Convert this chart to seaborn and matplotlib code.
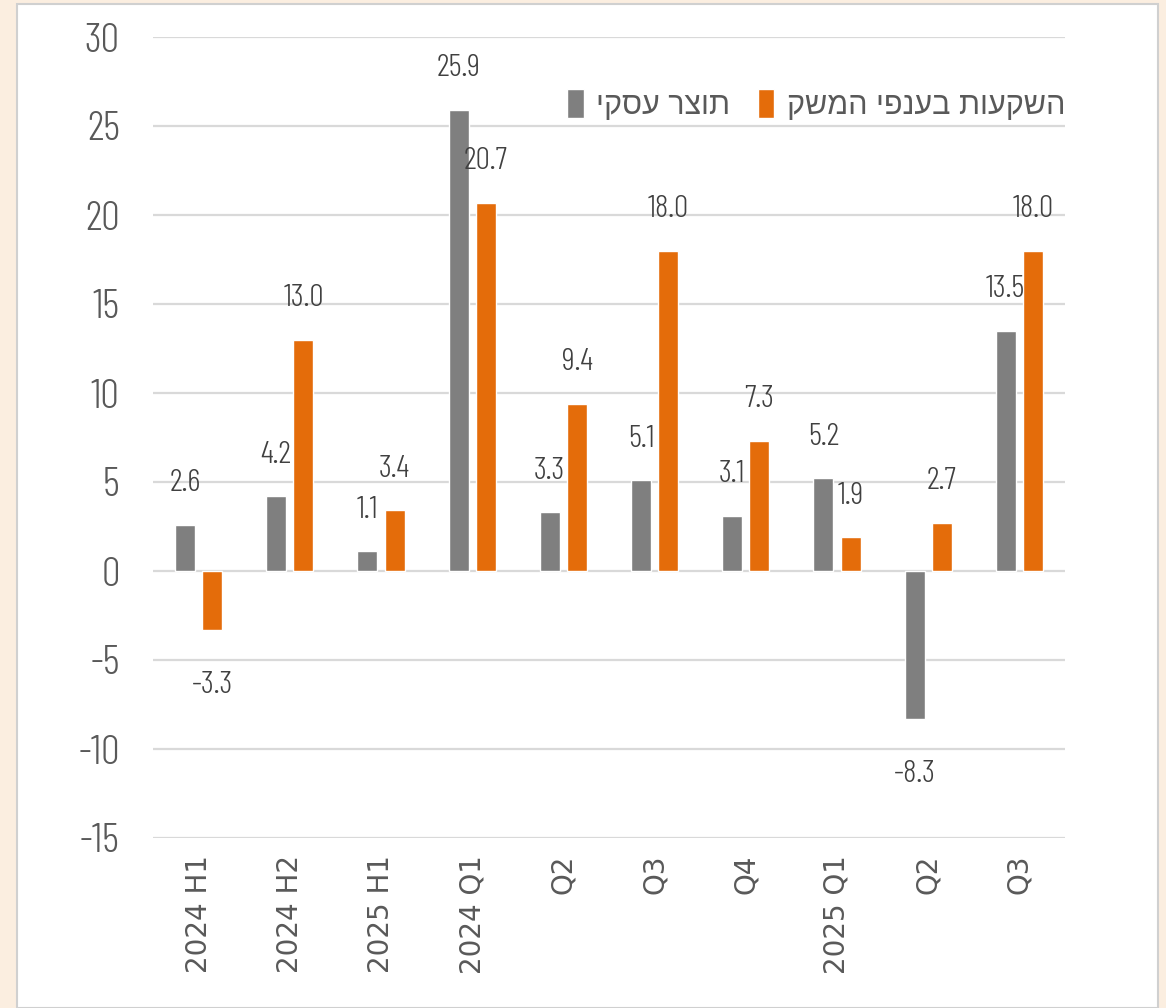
import matplotlib
matplotlib.use("Agg")
import matplotlib.pyplot as plt
from matplotlib.patches import Rectangle
from matplotlib import font_manager as fm
import seaborn as sns
import pandas as pd

# ---- data ----
categories = ["2024 H1", "2024 H2", "2025 H1", "2024 Q1", "Q2", "Q3", "Q4", "2025 Q1", "Q2", "Q3"]
business_gdp = [2.6, 4.2, 1.1, 25.9, 3.3, 5.1, 3.1, 5.2, -8.3, 13.5]
investment = [-3.3, 13.0, 3.4, 20.7, 9.4, 18.0, 7.3, 1.9, 2.7, 18.0]
series_names = ["תוצר עסקי", "השקעות בענפי המשק"]
y_ticks = [-15, -10, -5, 0, 5, 10, 15, 20, 25, 30]

def rtl(s):
    # matplotlib lays text out left-to-right; reverse Hebrew for visual order
    return s[::-1]

rows = []
for i, c in enumerate(categories):
    rows.append({"slot": i, "series": rtl(series_names[0]), "value": business_gdp[i]})
    rows.append({"slot": i, "series": rtl(series_names[1]), "value": investment[i]})
df = pd.DataFrame(rows)

sns.set_theme(style="white")
plt.rcParams["font.family"] = ["Liberation Sans", "DejaVu Sans"]

num_family = ["Barlow Condensed", "Liberation Sans"]
tick_font = fm.FontProperties(family=num_family, weight=300, size=30)
val_font = fm.FontProperties(family=num_family, weight=300, size=23)

fig = plt.figure(figsize=(11.66, 10.08), dpi=100, facecolor="#fbeee0")
fig.patches.append(Rectangle((17 / 1166, 0), (1158 - 17) / 1166, (1008 - 4) / 1008,
                             transform=fig.transFigure, facecolor="white",
                             edgecolor="#d0d0d0", lw=1.5, zorder=-1))
ax = fig.add_axes([153 / 1166, 1 - 838 / 1008, (1065 - 153) / 1166, (838 - 37) / 1008])
ax.set_facecolor("none")

palette = {rtl(series_names[0]): "#7f7f7f", rtl(series_names[1]): "#e46c0a"}
sns.barplot(data=df, x="slot", y="value", hue="series", palette=palette,
            width=0.6, gap=0.27, ax=ax, saturation=1, errorbar=None,
            hue_order=[rtl(series_names[0]), rtl(series_names[1])], zorder=3)

ax.set_ylim(-15, 30)
ax.set_yticks(y_ticks)
ax.set_yticklabels([str(t) for t in y_ticks], color="#595959", fontproperties=tick_font)
ax.tick_params(axis="y", length=0, pad=24)
ax.set_xticks(range(len(categories)))
ax.set_xticklabels(categories, rotation=90, fontsize=20, color="#595959",
                   family="DejaVu Sans", va="top")
ax.tick_params(axis="x", length=0, pad=12)
ax.set_xlabel("")
ax.set_ylabel("")
ax.grid(axis="y", color="#d9d9d9", lw=1.6, zorder=0)
for s in ax.spines.values():
    s.set_visible(False)

for cont in ax.containers:
    for p in cont.patches:
        h = p.get_height()
        x = p.get_x() + p.get_width() / 2
        off = 30 if h >= 0 else -40
        ax.annotate(f"{h:.1f}", (x, h), xytext=(0, off), textcoords="offset points",
                    ha="center", va="center", fontproperties=val_font,
                    color="#404040", zorder=5)

leg = ax.legend(loc="center right", bbox_to_anchor=(1.0, 0.915), ncol=2, frameon=False,
                prop=fm.FontProperties(family=["Liberation Sans", "DejaVu Sans"], size=22),
                handlelength=0.55, handleheight=1.1, handletextpad=0.4,
                columnspacing=0.9, borderaxespad=0, borderpad=0)
for t in leg.get_texts():
    t.set_color("#595959")

fig.savefig("out.png", dpi=100, facecolor=fig.get_facecolor())
